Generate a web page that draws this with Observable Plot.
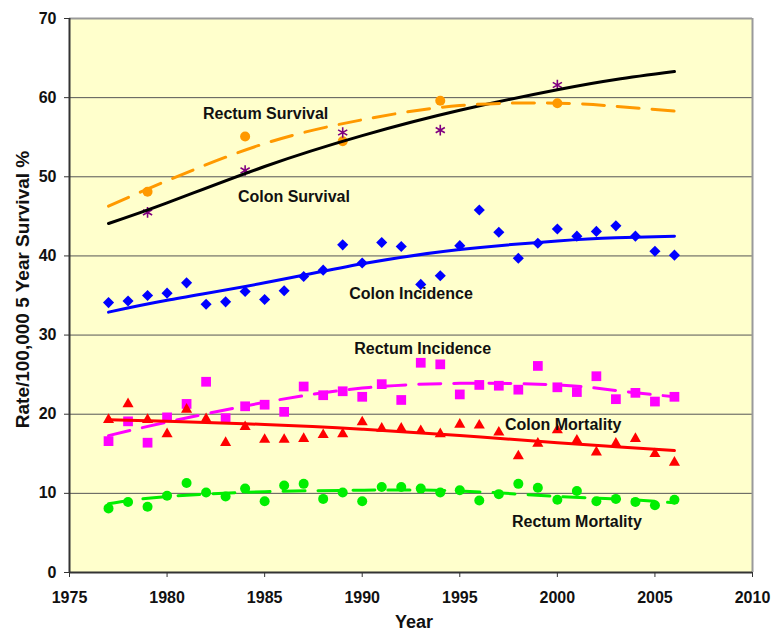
<!DOCTYPE html>
<html><head><meta charset="utf-8">
<script src="https://cdn.jsdelivr.net/npm/d3@7"></script>
<script src="https://cdn.jsdelivr.net/npm/@observablehq/plot@0.6"></script>
<style>body{margin:0;background:#fff} svg{display:block}</style>
</head><body><div id="chart"></div>
<script>
// ---- data ----
const years = [1977,1978,1979,1980,1981,1982,1983,1984,1985,1986,1987,1988,1989,1990,1991,1992,1993,1994,1995,1996,1997,1998,1999,2000,2001,2002,2003,2004,2005,2006];
const colonIncidence  = [34.1,34.3,35.0,35.3,36.6,33.9,34.2,35.5,34.5,35.6,37.4,38.2,41.4,39.1,41.7,41.2,36.4,37.5,41.3,45.8,43.0,39.7,41.6,43.4,42.5,43.1,43.8,42.5,40.6,40.1];
const rectumIncidence = [16.6,19.1,16.4,19.6,21.3,24.1,19.5,21.0,21.2,20.3,23.5,22.4,22.9,22.2,23.8,21.8,26.5,26.3,22.5,23.7,23.6,23.1,26.1,23.4,22.8,24.8,21.9,22.7,21.6,22.2];
const colonMortality  = [19.3,21.3,19.3,17.5,20.6,19.4,16.4,18.4,16.8,16.8,16.9,17.4,17.5,19.0,18.2,18.2,17.9,17.5,18.7,18.6,17.7,14.7,16.3,18.0,16.7,15.2,16.3,16.9,15.0,13.9];
const rectumMortality = [8.1,8.9,8.3,9.7,11.3,10.1,9.6,10.6,9.0,11.0,11.2,9.3,10.1,9.0,10.8,10.8,10.6,10.1,10.4,9.1,9.9,11.2,10.7,9.2,10.3,9.0,9.3,8.9,8.5,9.2];

const survivalYears  = [1979,1984,1989,1994,2000];
const colonSurvival  = [45.5,50.8,55.6,55.9,61.6];
const rectumSurvival = [48.1,55.1,54.5,59.6,59.3];

// trend lines
const trendYears = [1977,1980,1985,1990,1995,2000,2003,2006];
const colonSurvivalTrend   = [44.1,46.7,51.3,55.2,58.4,61.0,62.3,63.3];
const rectumSurvivalTrend  = [46.3,49.5,54.2,57.2,59.0,59.3,58.9,58.3];
const colonIncidenceTrend  = [32.9,34.4,36.6,39.0,40.8,41.9,42.3,42.5];
const rectumIncidenceTrend = [17.3,19.0,21.5,23.3,23.9,23.7,23.0,22.2];
const colonMortalityTrend  = [19.3,19.1,18.7,18.1,17.3,16.4,15.9,15.4];
const rectumMortalityTrend = [8.7,9.6,10.2,10.4,10.3,9.6,9.3,8.8];

const labelText = ["Rectum Survival","Colon Survival","Colon Incidence","Rectum Incidence","Colon Mortality","Rectum Mortality"];
const labelX = [1985.05,1986.5,1992.5,1993.1,2000.3,2001.0];
const labelY = [58.0,47.4,35.2,28.2,18.7,6.4];

const xTicks = [1975,1980,1985,1990,1995,2000,2005,2010];
const yTicks = [0,10,20,30,40,50,60,70];

// ---- build tables ----
const pts = (xs, ys) => xs.map((x, i) => ({x, y: ys[i]}));
const labels = labelText.map((t, i) => ({t, x: labelX[i], y: labelY[i]}));

const lineOpts = {x: "x", y: "y", curve: "natural", strokeWidth: 3};
const dash = "22,13";

const chart = Plot.plot({
  width: 771, height: 635,
  marginLeft: 69, marginRight: 19, marginTop: 18, marginBottom: 63,
  style: {fontFamily: "Arial, 'Liberation Sans', sans-serif", background: "#fff", color: "#111"},
  x: {domain: [1975, 2010]},
  y: {domain: [0, 70]},
  marks: [
    Plot.frame({fill: "#FFFFCC", stroke: null}),
    Plot.ruleY(yTicks.filter(d => d > 0 && d < 70), {stroke: "#555", strokeWidth: 1}),
    Plot.ruleY([70], {stroke: "#9a9a9a", strokeWidth: 2}),
    Plot.ruleX([2010], {stroke: "#9a9a9a", strokeWidth: 2}),

    Plot.dot(pts(years, colonIncidence), {x: "x", y: "y", symbol: "diamond2", r: 5, fill: "#0000FF"}),
    Plot.dot(pts(years, rectumIncidence), {x: "x", y: "y", symbol: "square2", r: 6.2, fill: "#FF00FF"}),
    Plot.dot(pts(years, colonMortality), {x: "x", y: "y", symbol: "triangle2", r: 5.3, fill: "#FF0000"}),
    Plot.dot(pts(years, rectumMortality), {x: "x", y: "y", symbol: "circle", r: 5, fill: "#00EE00"}),
    Plot.dot(pts(survivalYears, rectumSurvival), {x: "x", y: "y", symbol: "circle", r: 5, fill: "#FF9900"}),
    Plot.dot(pts(survivalYears, colonSurvival), {x: "x", y: "y", symbol: "asterisk", r: 5, stroke: "#800080", strokeWidth: 1.6}),

    Plot.line(pts(trendYears, colonSurvivalTrend), {...lineOpts, stroke: "#000"}),
    Plot.line(pts(trendYears, rectumSurvivalTrend), {...lineOpts, stroke: "#FF9900", strokeDasharray: dash}),
    Plot.line(pts(trendYears, colonIncidenceTrend), {...lineOpts, stroke: "#0000FF"}),
    Plot.line(pts(trendYears, rectumIncidenceTrend), {...lineOpts, stroke: "#FF00FF", strokeDasharray: dash}),
    Plot.line(pts(trendYears, colonMortalityTrend), {...lineOpts, stroke: "#FF0000"}),
    Plot.line(pts(trendYears, rectumMortalityTrend), {...lineOpts, stroke: "#00EE00", strokeDasharray: dash}),

    Plot.text(labels, {x: "x", y: "y", text: "t", fontSize: 16, fontWeight: "bold", fill: "#111"}),

    Plot.ruleY([0], {stroke: "#333", strokeWidth: 2}),
    Plot.ruleX([1975], {stroke: "#333", strokeWidth: 2}),
    Plot.axisX({ticks: xTicks, tickFormat: d3.format("d"), tickSize: 5, tickPadding: 14, fontSize: 16, fontWeight: "bold", label: null, stroke: "#333"}),
    Plot.axisY({ticks: yTicks, tickFormat: d3.format("d"), tickSize: 5, tickPadding: 8, fontSize: 16, fontWeight: "bold", label: null, stroke: "#333"}),
    Plot.text(["Year"], {frameAnchor: "bottom", textAnchor: "middle", lineAnchor: "middle", dx: 3, dy: 50, fontSize: 18, fontWeight: "bold", fill: "#111"}),
    Plot.text(["Rate/100,000 5 Year Survival %"], {frameAnchor: "left", textAnchor: "middle", lineAnchor: "middle", rotate: -90, dx: -47, dy: -6, fontSize: 19, fontWeight: "bold", fill: "#111"})
  ]
});
document.getElementById("chart").appendChild(chart);
</script>
</body></html>
